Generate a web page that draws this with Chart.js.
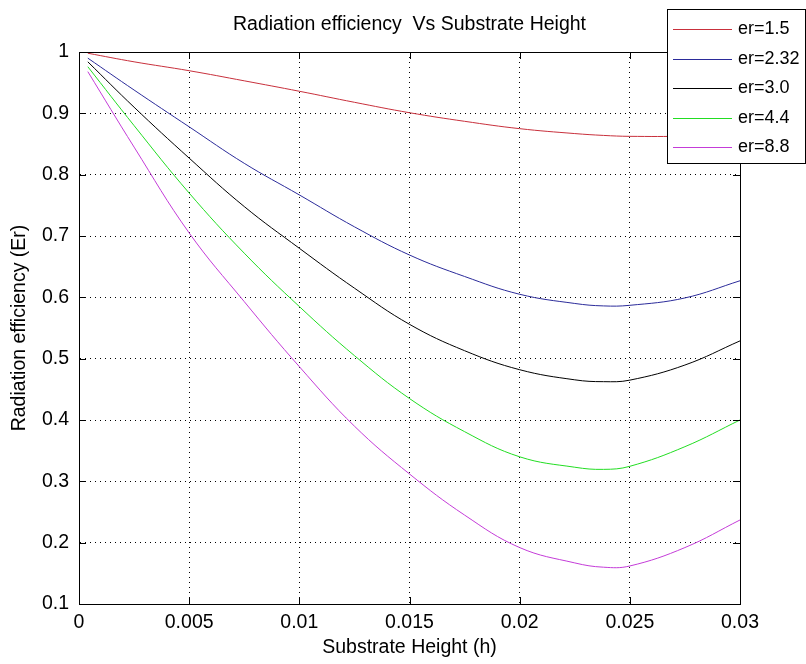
<!DOCTYPE html>
<html><head><meta charset="utf-8">
<script src="https://cdn.jsdelivr.net/npm/chart.js@4.4.0/dist/chart.umd.min.js"></script>
<style>html,body{margin:0;padding:0;background:#fff;overflow:hidden}</style>
</head><body>
<canvas id="c" width="806" height="664"></canvas>
<script>
// ---- data ----
const xs    = [0.0004, 0.0025, 0.005, 0.0075, 0.01, 0.0125, 0.015, 0.0175, 0.02, 0.0225, 0.0238, 0.025, 0.0275, 0.03];
const er15  = [0.998, 0.984, 0.9695, 0.953, 0.936, 0.918, 0.901, 0.887, 0.875, 0.867, 0.864, 0.8625, 0.863, 0.868];
const er232 = [0.990, 0.938, 0.878, 0.8185, 0.767, 0.715, 0.669, 0.634, 0.605, 0.590, 0.586, 0.587, 0.599, 0.627];
const er30  = [0.984, 0.910, 0.827, 0.748, 0.680, 0.615, 0.556, 0.513, 0.482, 0.4655, 0.4625, 0.465, 0.4896, 0.529];
const er44  = [0.976, 0.880, 0.770, 0.672, 0.585, 0.505, 0.435, 0.381, 0.340, 0.323, 0.3195, 0.3245, 0.3565, 0.400];
const er88  = [0.968, 0.845, 0.705, 0.593, 0.487, 0.390, 0.312, 0.245, 0.192, 0.167, 0.160, 0.162, 0.192, 0.237];
const seriesLabels = ['er=1.5', 'er=2.32', 'er=3.0', 'er=4.4', 'er=8.8'];
const xTicks = [0, 0.005, 0.01, 0.015, 0.02, 0.025, 0.03];
const xTickLabels = ['0', '0.005', '0.01', '0.015', '0.02', '0.025', '0.03'];
const yTicks = [0.1, 0.2, 0.3, 0.4, 0.5, 0.6, 0.7, 0.8, 0.9, 1];
const yTickLabels = ['0.1', '0.2', '0.3', '0.4', '0.5', '0.6', '0.7', '0.8', '0.9', '1'];

const colors = ['#c8303c', '#2b2b9a', '#000000', '#22dd22', '#c43cd8'];
const FONT = '"Liberation Sans", Arial, sans-serif';
const series = [er15, er232, er30, er44, er88];

const datasets = series.map((arr, k) => ({
  label: seriesLabels[k],
  data: xs.map((x, i) => ({x: x, y: arr[i]})),
  borderColor: colors[k],
  backgroundColor: colors[k],
  borderWidth: 1,
  pointRadius: 0,
  fill: false,
  tension: 0.4
}));

const boxPlugin = {
  id: 'boxPlugin',
  afterDraw(chart) {
    const {ctx, chartArea: a, scales: {x, y}} = chart;
    ctx.save();
    ctx.strokeStyle = '#000';
    ctx.lineWidth = 1;
    const L = 7;
    ctx.beginPath();
    x.ticks.forEach(t => {
      const px = Math.round(x.getPixelForValue(t.value)) + 0.5;
      ctx.moveTo(px, a.bottom); ctx.lineTo(px, a.bottom - L);
      ctx.moveTo(px, a.top); ctx.lineTo(px, a.top + L);
    });
    y.ticks.forEach(t => {
      const py = Math.round(y.getPixelForValue(t.value)) + 0.5;
      ctx.moveTo(a.left, py); ctx.lineTo(a.left + L, py);
      ctx.moveTo(a.right, py); ctx.lineTo(a.right - L, py);
    });
    ctx.stroke();
    ctx.strokeRect(Math.round(a.left) + 0.5, Math.round(a.top) + 0.5,
                   Math.round(a.right - a.left), Math.round(a.bottom - a.top));

    // legend box overlapping the plot (top-right), as in the reference
    const bx = 667.5, by = 9.5, bw = 138, bh = 154;
    ctx.fillStyle = '#fff';
    ctx.fillRect(bx, by, bw, bh);
    ctx.strokeRect(bx, by, bw, bh);
    ctx.font = '18px ' + FONT;
    ctx.textBaseline = 'middle';
    ctx.textAlign = 'left';
    chart.data.datasets.forEach((ds, i) => {
      const ry = Math.round(29 + i * 29.5) + 0.5;
      ctx.strokeStyle = ds.borderColor;
      ctx.beginPath();
      ctx.moveTo(673, ry); ctx.lineTo(732, ry);
      ctx.stroke();
      ctx.fillStyle = '#000';
      ctx.fillText(ds.label, 738, ry);
    });
    ctx.restore();
  }
};

new Chart(document.getElementById('c'), {
  type: 'line',
  data: {datasets},
  plugins: [boxPlugin],
  options: {
    responsive: false,
    animation: false,
    devicePixelRatio: 1,
    layout: {padding: {left: 0, right: 66, top: 0, bottom: 0}},
    plugins: {
      legend: {display: false},
      tooltip: {enabled: false},
      title: {
        display: true,
        fullSize: false,
        text: 'Radiation efficiency  Vs Substrate Height',
        color: '#000',
        font: {family: FONT, size: 19.5, weight: 'normal'},
        padding: {top: 13, bottom: 15.6}
      }
    },
    scales: {
      x: {
        type: 'linear',
        min: 0, max: 0.03,
        afterBuildTicks: s => { s.ticks = xTicks.map(v => ({value: v})); },
        afterFit: s => { s.height = 60; },
        ticks: {
          callback: (v, i) => xTickLabels[i],
          color: '#000',
          font: {family: FONT, size: 19.5},
          padding: 7, maxRotation: 0, autoSkip: false
        },
        grid: {color: '#000', lineWidth: 1, drawTicks: false},
        border: {display: true, color: '#000', width: 1, dash: [1, 4]},
        title: {
          display: true, text: 'Substrate Height (h)', color: '#000',
          font: {family: FONT, size: 19.5}, padding: {top: 0, bottom: 4.3}
        }
      },
      y: {
        type: 'linear',
        min: 0.1, max: 1,
        afterBuildTicks: s => { s.ticks = yTicks.map(v => ({value: v})); },
        afterFit: s => { s.width = 79; },
        ticks: {
          callback: (v, i) => yTickLabels[i],
          color: '#000',
          font: {family: FONT, size: 19.5},
          padding: 10, autoSkip: false
        },
        grid: {color: '#000', lineWidth: 1, drawTicks: false},
        border: {display: true, color: '#000', width: 1, dash: [1, 4]},
        title: {
          display: true, text: 'Radiation efficiency (Er)', color: '#000',
          font: {family: FONT, size: 19.5}, padding: {top: 8.3, bottom: 0}
        }
      }
    }
  }
});
</script>
</body></html>
